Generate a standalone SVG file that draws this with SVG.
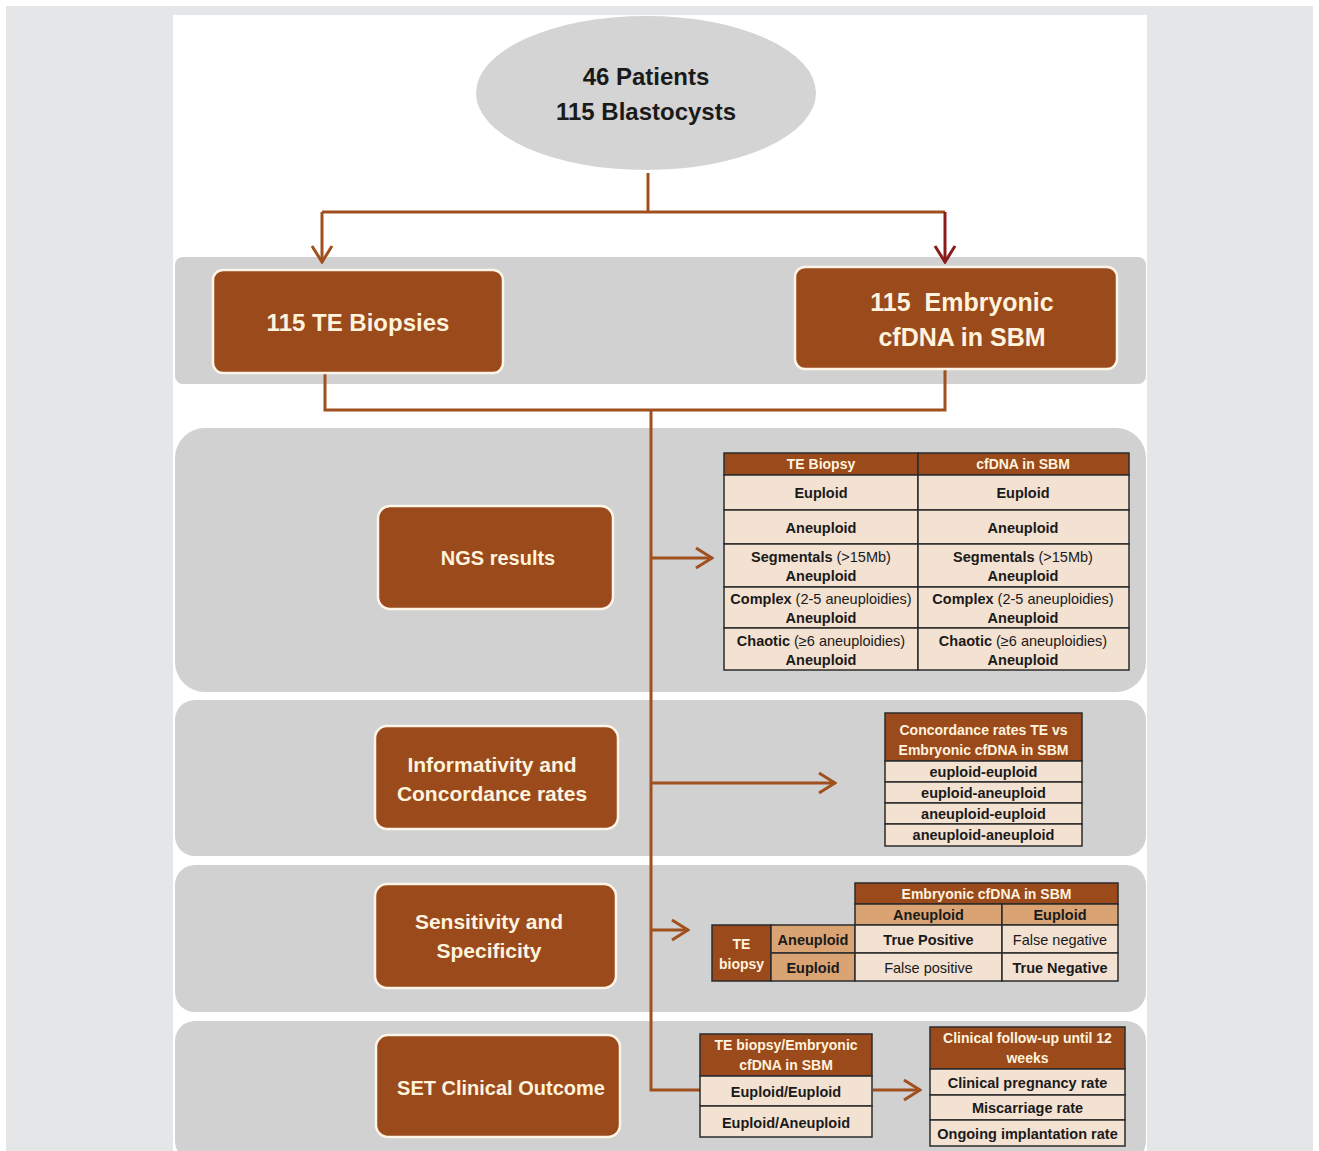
<svg xmlns="http://www.w3.org/2000/svg" width="1319" height="1151" viewBox="0 0 1319 1151">
<defs>
<style>
.band{fill:#d1d1d1}
.node{fill:#9a4a1b;stroke:#fdf5e8;stroke-width:2.5}
.nt{font-family:"Liberation Sans",Arial,sans-serif;font-weight:bold;fill:#fff3de;text-anchor:middle}
.con{fill:none;stroke:#a0501e;stroke-width:3}
.cell{stroke:#2b2b2b;stroke-width:1.5}
.lt{fill:#f3e1d1}
.hd{fill:#9a4a1b}
.tan{fill:#d9a374}
.tt{font-family:"Liberation Sans",Arial,sans-serif;font-size:14.5px;fill:#1a1a1a;text-anchor:middle}
.b{font-weight:bold}
.ht{font-family:"Liberation Sans",Arial,sans-serif;font-size:14px;font-weight:bold;fill:#fff3de;text-anchor:middle}
</style>
<marker id="chev" viewBox="0 0 20 24" markerWidth="20" markerHeight="24" refX="18" refY="12" orient="auto" markerUnits="userSpaceOnUse">
<path d="M2,2 L18,12 L2,22" fill="none" stroke="#a0501e" stroke-width="3"/>
</marker>
<marker id="chevr" viewBox="0 0 20 24" markerWidth="20" markerHeight="24" refX="18" refY="12" orient="auto" markerUnits="userSpaceOnUse">
<path d="M2,2 L18,12 L2,22" fill="none" stroke="#8b1a1a" stroke-width="3"/>
</marker>
</defs>
<rect x="0" y="0" width="1319" height="1151" fill="#ffffff"/>
<rect x="6" y="6" width="1307" height="1145" fill="#e5e6e7"/>
<rect x="173" y="15" width="974" height="1136" fill="#ffffff"/>

<g id="bands">
<rect class="band" x="175" y="257" width="971" height="127" rx="8"/>
<rect class="band" x="175" y="428" width="971" height="264" rx="30"/>
<rect class="band" x="175" y="700" width="971" height="156" rx="20"/>
<rect class="band" x="175" y="865" width="971" height="147" rx="20"/>
<rect class="band" x="175" y="1021" width="971" height="140" rx="20"/>
</g>

<g id="connectors">
<path class="con" d="M648,173 V212"/>
<path class="con" d="M322,212 H945"/>
<path class="con" d="M322,212 V262" marker-end="url(#chev)"/>
<path d="M945,212 V262" fill="none" stroke="#8b1a1a" stroke-width="3" marker-end="url(#chevr)"/>
<path class="con" d="M325,373 V410 H945 V369"/>
<path class="con" d="M651,410 V1090 H700"/>
<path class="con" d="M651,558 H712" marker-end="url(#chev)"/>
<path class="con" d="M651,783 H835" marker-end="url(#chev)"/>
<path class="con" d="M651,930 H688" marker-end="url(#chev)"/>
<path class="con" d="M873,1090 H920" marker-end="url(#chev)"/>
</g>

<g id="start">
<ellipse cx="646" cy="93" rx="170" ry="77" fill="#d4d4d4"/>
<text class="nt" x="646" y="85" font-size="24" style="fill:#1a1a1a">46 Patients</text>
<text class="nt" x="646" y="120" font-size="24" style="fill:#1a1a1a">115 Blastocysts</text>
</g>

<g id="te-biopsies">
<rect class="node" x="213" y="270" width="290" height="103" rx="10"/>
<text class="nt" x="358" y="331" font-size="24">115 TE Biopsies</text>
</g>

<g id="cfdna">
<rect class="node" x="795" y="267" width="322" height="102" rx="10"/>
<text class="nt" x="962" y="311" font-size="25" xml:space="preserve">115  Embryonic</text>
<text class="nt" x="962" y="346" font-size="25">cfDNA in SBM</text>
</g>

<g id="ngs">
<rect class="node" x="378" y="506" width="235" height="103" rx="12"/>
<text class="nt" x="498" y="565" font-size="20">NGS results</text>
</g>

<g id="informativity">
<rect class="node" x="375" y="726" width="243" height="103" rx="12"/>
<text class="nt" x="492" y="772" font-size="21">Informativity and</text>
<text class="nt" x="492" y="801" font-size="21">Concordance rates</text>
</g>

<g id="sensitivity">
<rect class="node" x="375" y="884" width="241" height="104" rx="12"/>
<text class="nt" x="489" y="929" font-size="21">Sensitivity and</text>
<text class="nt" x="489" y="958" font-size="21">Specificity</text>
</g>

<g id="set">
<rect class="node" x="376" y="1035" width="244" height="102" rx="12"/>
<text class="nt" x="501" y="1095" font-size="20">SET Clinical Outcome</text>
</g>

<g id="ngs-table">
<rect class="cell hd" x="724" y="453" width="194" height="22"/>
<rect class="cell hd" x="918" y="453" width="211" height="22"/>
<rect class="cell lt" x="724" y="475" width="194" height="35"/>
<rect class="cell lt" x="918" y="475" width="211" height="35"/>
<rect class="cell lt" x="724" y="510" width="194" height="34"/>
<rect class="cell lt" x="918" y="510" width="211" height="34"/>
<rect class="cell lt" x="724" y="544" width="194" height="43"/>
<rect class="cell lt" x="918" y="544" width="211" height="43"/>
<rect class="cell lt" x="724" y="587" width="194" height="41"/>
<rect class="cell lt" x="918" y="587" width="211" height="41"/>
<rect class="cell lt" x="724" y="628" width="194" height="42"/>
<rect class="cell lt" x="918" y="628" width="211" height="42"/>
<text class="ht" x="821" y="469">TE Biopsy</text>
<text class="ht" x="1023" y="469">cfDNA in SBM</text>
<text class="tt b" x="821" y="498">Euploid</text>
<text class="tt b" x="1023" y="498">Euploid</text>
<text class="tt b" x="821" y="533">Aneuploid</text>
<text class="tt b" x="1023" y="533">Aneuploid</text>
<text class="tt" x="821" y="562"><tspan class="b">Segmentals</tspan> (&gt;15Mb)</text>
<text class="tt b" x="821" y="581">Aneuploid</text>
<text class="tt" x="1023" y="562"><tspan class="b">Segmentals</tspan> (&gt;15Mb)</text>
<text class="tt b" x="1023" y="581">Aneuploid</text>
<text class="tt" x="821" y="604"><tspan class="b">Complex</tspan> (2-5 aneuploidies)</text>
<text class="tt b" x="821" y="623">Aneuploid</text>
<text class="tt" x="1023" y="604"><tspan class="b">Complex</tspan> (2-5 aneuploidies)</text>
<text class="tt b" x="1023" y="623">Aneuploid</text>
<text class="tt" x="821" y="646"><tspan class="b">Chaotic</tspan> (≥6 aneuploidies)</text>
<text class="tt b" x="821" y="665">Aneuploid</text>
<text class="tt" x="1023" y="646"><tspan class="b">Chaotic</tspan> (≥6 aneuploidies)</text>
<text class="tt b" x="1023" y="665">Aneuploid</text>
</g>

<g id="concordance-table">
<rect class="cell hd" x="885" y="713" width="197" height="48"/>
<rect class="cell lt" x="885" y="761" width="197" height="21"/>
<rect class="cell lt" x="885" y="782" width="197" height="21"/>
<rect class="cell lt" x="885" y="803" width="197" height="21"/>
<rect class="cell lt" x="885" y="824" width="197" height="22"/>
<text class="ht" x="983.5" y="735">Concordance rates TE vs</text>
<text class="ht" x="983.5" y="755">Embryonic cfDNA in SBM</text>
<text class="tt b" x="983.5" y="777">euploid-euploid</text>
<text class="tt b" x="983.5" y="798">euploid-aneuploid</text>
<text class="tt b" x="983.5" y="819">aneuploid-euploid</text>
<text class="tt b" x="983.5" y="840">aneuploid-aneuploid</text>
</g>

<g id="sensitivity-table">
<rect class="cell hd" x="855" y="883" width="263" height="21"/>
<rect class="cell tan" x="855" y="904" width="147" height="21"/>
<rect class="cell tan" x="1002" y="904" width="116" height="21"/>
<rect class="cell hd" x="712" y="925" width="59" height="56"/>
<rect class="cell tan" x="771" y="925" width="84" height="28"/>
<rect class="cell tan" x="771" y="953" width="84" height="28"/>
<rect class="cell lt" x="855" y="925" width="147" height="28"/>
<rect class="cell lt" x="1002" y="925" width="116" height="28"/>
<rect class="cell lt" x="855" y="953" width="147" height="28"/>
<rect class="cell lt" x="1002" y="953" width="116" height="28"/>
<text class="ht" x="986.5" y="899">Embryonic cfDNA in SBM</text>
<text class="tt b" x="928.5" y="920">Aneuploid</text>
<text class="tt b" x="1060" y="920">Euploid</text>
<text class="ht" x="741.5" y="949">TE</text>
<text class="ht" x="741.5" y="969">biopsy</text>
<text class="tt b" x="813" y="945">Aneuploid</text>
<text class="tt b" x="813" y="973">Euploid</text>
<text class="tt b" x="928.5" y="945">True Positive</text>
<text class="tt" x="1060" y="945">False negative</text>
<text class="tt" x="928.5" y="973">False positive</text>
<text class="tt b" x="1060" y="973">True Negative</text>
</g>

<g id="outcome-table">
<rect class="cell hd" x="700" y="1034" width="172" height="42"/>
<rect class="cell lt" x="700" y="1076" width="172" height="30"/>
<rect class="cell lt" x="700" y="1106" width="172" height="31"/>
<text class="ht" x="786" y="1050">TE biopsy/Embryonic</text>
<text class="ht" x="786" y="1070">cfDNA in SBM</text>
<text class="tt b" x="786" y="1097">Euploid/Euploid</text>
<text class="tt b" x="786" y="1128">Euploid/Aneuploid</text>
</g>

<g id="followup-table">
<rect class="cell hd" x="930" y="1027" width="195" height="42"/>
<rect class="cell lt" x="930" y="1069" width="195" height="26"/>
<rect class="cell lt" x="930" y="1095" width="195" height="25"/>
<rect class="cell lt" x="930" y="1120" width="195" height="26"/>
<text class="ht" x="1027.5" y="1043">Clinical follow-up until 12</text>
<text class="ht" x="1027.5" y="1063">weeks</text>
<text class="tt b" x="1027.5" y="1088">Clinical pregnancy rate</text>
<text class="tt b" x="1027.5" y="1113">Miscarriage rate</text>
<text class="tt b" x="1027.5" y="1139">Ongoing implantation rate</text>
</g>
</svg>
